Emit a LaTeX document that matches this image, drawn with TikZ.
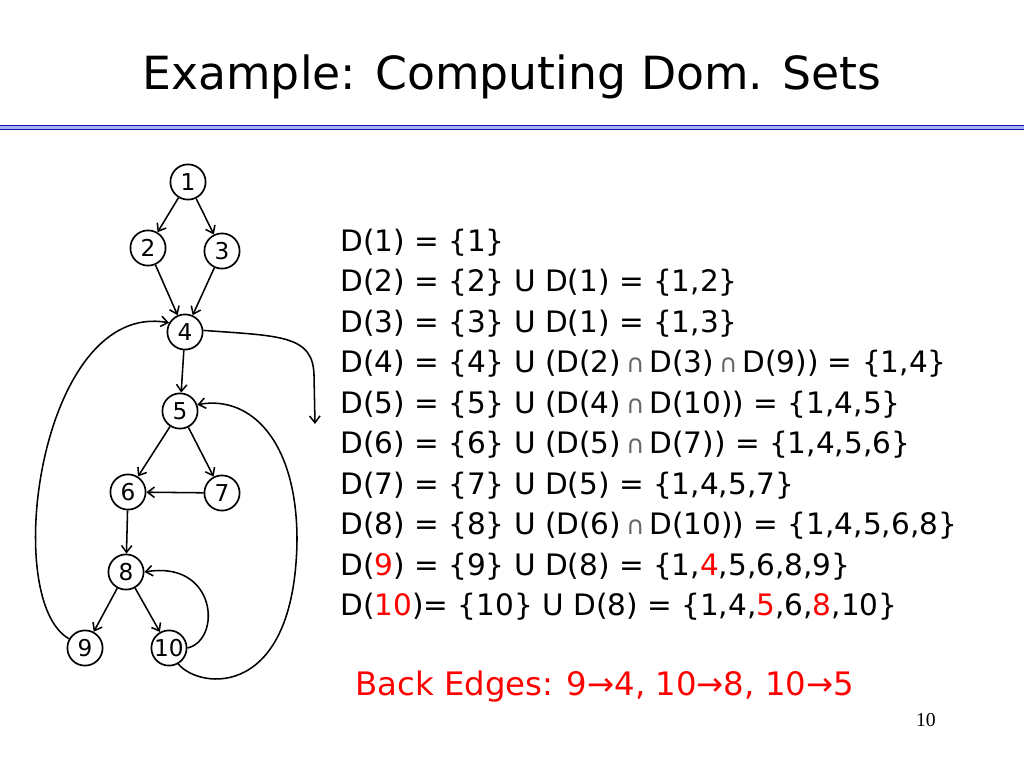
\documentclass[tikz,border=0pt]{standalone}
\usepackage{fontspec}
\setmainfont{DejaVu Sans}
\newfontfamily\pgnumfont{Liberation Serif}
\usepackage{tikz}
\usetikzlibrary{arrows.meta}
\definecolor{rdark}{HTML}{1414A8}
\definecolor{rlight}{HTML}{A8B2F2}
\newcommand{\meet}{{\color{black!60}\fontsize{18}{18}\selectfont ∩}}
\newcommand{\hl}[1]{\textcolor{red}{#1}}

\begin{document}
\begin{tikzpicture}[x=0.025cm,y=-0.025cm,
  v/.style={draw,circle,line width=1.2pt,minimum size=0.88cm,inner sep=0pt,
            font=\fontsize{16.5}{16.5}\selectfont},
  a/.style={-{Straight Barb[length=1.7mm,width=2.6mm]},line width=1.1pt},
  eq/.style={anchor=base west,inner sep=0pt,font=\fontsize{21}{24}\selectfont}]
\useasboundingbox (0,0) rectangle (1024,768);

% title and rule
\node[anchor=base,inner sep=0pt,font=\fontsize{32.5}{36}\selectfont] (title) at (512,90)
  {Example: Computing Dom. Sets};
\fill[rlight] (0,125) rectangle (1024,129);
\draw[rdark,line width=0.7pt] (0,125) -- (1024,125) (0,129) -- (1024,129);

% flow graph
\node[v] (n1)  at (188,182) {1};
\node[v] (n2)  at (148,248) {2};
\node[v] (n3)  at (222,251) {3};
\node[v] (n4)  at (185,332) {4};
\node[v] (n5)  at (180,411) {5};
\node[v] (n6)  at (128,492) {6};
\node[v] (n7)  at (222,493) {7};
\node[v] (n8)  at (126,572) {8};
\node[v] (n9)  at (85,648)  {9};
\node[v] (n10) at (169,648) {10};
\coordinate (exit) at (315,424);

\draw[a] (n1) -- (n2);
\draw[a] (n1) -- (n3);
\draw[a] (n2) -- (n4);
\draw[a] (n3) -- (n4);
\draw[a] (n4) -- (n5);
\draw[a] (n5) -- (n6);
\draw[a] (n5) -- (n7);
\draw[a] (n7) -- (n6);
\draw[a] (n6) -- (n8);
\draw[a] (n8) -- (n9);
\draw[a] (n8) -- (n10);
\draw[a] (n4.5) .. controls (280,336) and (313,335) .. (314,375) -- (exit);
% back edges
\draw[a] (n9.150) .. controls (0,600) and (40,300) .. (n4.150);
\draw[a] (n10.east) .. controls (222,640) and (217,560) .. (n8.east);
\draw[a] (n10.-60) .. controls (200,690) and (295,700) .. (297,540)
  .. controls (297,440) and (250,395) .. (n5.20);

% dominator sets
\node[eq] (d1)  at (340,251)   {D(1) = \{1\}};
\node[eq] (d2)  at (340,291.5) {D(2) = \{2\} U D(1) = \{1,2\}};
\node[eq] (d3)  at (340,332)   {D(3) = \{3\} U D(1) = \{1,3\}};
\node[eq] (d4)  at (340,372.5) {D(4) = \{4\} U (D(2)\,\meet\,D(3)\,\meet\,D(9)) = \{1,4\}};
\node[eq] (d5)  at (340,413)   {D(5) = \{5\} U (D(4)\,\meet\,D(10)) = \{1,4,5\}};
\node[eq] (d6)  at (340,453.5) {D(6) = \{6\} U (D(5)\,\meet\,D(7)) = \{1,4,5,6\}};
\node[eq] (d7)  at (340,494)   {D(7) = \{7\} U D(5) = \{1,4,5,7\}};
\node[eq] (d8)  at (340,534.5) {D(8) = \{8\} U (D(6)\,\meet\,D(10)) = \{1,4,5,6,8\}};
\node[eq] (d9)  at (340,575)   {D(\hl{9}) = \{9\} U D(8) = \{1,\hl{4},5,6,8,9\}};
\node[eq] (d10) at (340,615.5) {D(\hl{10})= \{10\} U D(8) = \{1,4,\hl{5},6,\hl{8},10\}};

\node[eq,red,font=\fontsize{23}{26}\selectfont] (back) at (355,695)
  {Back Edges: 9→4, 10→8, 10→5};

\node[anchor=base east,inner sep=0pt,font=\pgnumfont\fontsize{14}{16}\selectfont] (pg) at (936,726) {10};
\end{tikzpicture}
\end{document}
